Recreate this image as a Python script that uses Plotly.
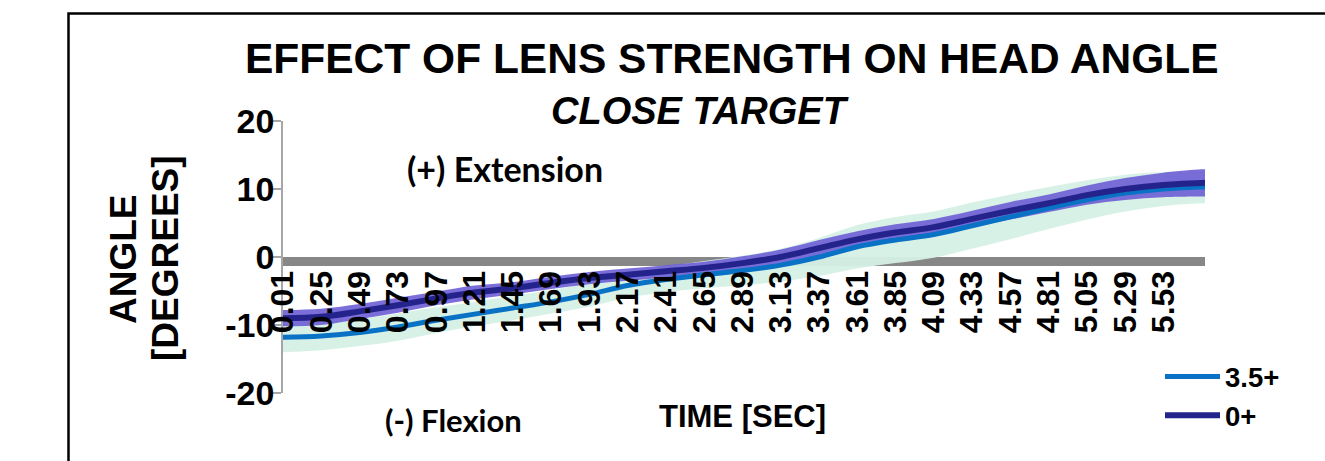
import plotly.graph_objects as go

# ---- data ----
time_s = [0.01, 0.25, 0.49, 0.73, 0.97, 1.21, 1.45, 1.69, 1.93, 2.17, 2.41, 2.65, 2.89,
          3.13, 3.37, 3.61, 3.85, 4.09, 4.33, 4.57, 4.81, 5.05, 5.29, 5.53, 5.77, 5.79]

lens_35_mean = [-11.8, -11.6, -11.1, -10.3, -9.3, -8.4, -7.5, -6.6, -5.5, -4.2, -3.3, -2.6, -2.0,
                -1.2, 0.0, 1.5, 2.5, 3.3, 4.6, 5.9, 7.2, 8.4, 9.4, 10.0, 10.3, 10.3]
lens_35_sd = [2.2, 2.1, 2.0, 2.0, 1.9, 1.8, 1.8, 1.7, 1.8, 1.8, 1.9, 2.0, 2.2,
              2.4, 2.8, 3.2, 3.4, 3.4, 3.4, 3.3, 3.1, 2.9, 2.7, 2.5, 2.4, 2.4]

lens_0_mean = [-9.0, -8.8, -8.0, -7.1, -6.1, -5.2, -4.6, -3.8, -3.1, -2.6, -2.1, -1.6, -0.9,
               0.0, 1.3, 2.6, 3.6, 4.4, 5.6, 6.8, 7.9, 9.1, 10.0, 10.6, 10.9, 10.9]
lens_0_sd = [1.2, 1.2, 1.1, 1.1, 1.0, 1.0, 0.9, 0.9, 0.9, 0.9, 0.9, 0.9, 1.0,
             1.1, 1.2, 1.2, 1.2, 1.2, 1.2, 1.3, 1.3, 1.4, 1.6, 1.8, 2.0, 2.0]

tick_vals = [0.01, 0.25, 0.49, 0.73, 0.97, 1.21, 1.45, 1.69, 1.93, 2.17, 2.41, 2.65,
             2.89, 3.13, 3.37, 3.61, 3.85, 4.09, 4.33, 4.57, 4.81, 5.05, 5.29, 5.53]
tick_text = ["%.2f" % v for v in tick_vals]
y_ticks = [-20, -10, 0, 10, 20]
series_names = ["3.5+", "0+"]

# ---- styles ----
C_LINE_35 = "#0A72C4"
C_BAND_35 = "rgba(214,240,230,0.95)"
C_LINE_0 = "#24238C"
C_BAND_0 = "rgba(112,98,214,0.92)"
ARIAL = "Liberation Sans, Arial, sans-serif"
CALIBRI = "Lato, sans-serif"

fig = go.Figure()


def band(mean, sd, color):
    upper = [m + s for m, s in zip(mean, sd)]
    lower = [m - s for m, s in zip(mean, sd)]
    fig.add_trace(go.Scatter(x=time_s, y=lower, mode="lines", line=dict(width=0, shape="spline"),
                             showlegend=False, hoverinfo="skip"))
    fig.add_trace(go.Scatter(x=time_s, y=upper, mode="lines", line=dict(width=0, shape="spline"),
                             fill="tonexty", fillcolor=color, showlegend=False, hoverinfo="skip"))


band(lens_35_mean, lens_35_sd, C_BAND_35)
band(lens_0_mean, lens_0_sd, C_BAND_0)

fig.add_trace(go.Scatter(x=time_s, y=lens_35_mean, mode="lines", name=series_names[0],
                         line=dict(color=C_LINE_35, width=5, shape="spline")))
fig.add_trace(go.Scatter(x=time_s, y=lens_0_mean, mode="lines", name=series_names[1],
                         line=dict(color=C_LINE_0, width=6, shape="spline")))
# invisible carrier so the overlaid label axis is drawn above the bands
fig.add_trace(go.Scatter(x=time_s, y=lens_0_mean, xaxis="x2", mode="lines", opacity=0,
                         showlegend=False, hoverinfo="skip"))

W, H = 1325, 461
L, R, T, B = 283, 120, 121, 68
PW, PH = W - L - R, H - T - B


def px(xp):
    return (xp - L) / PW


def py(yp):
    return (H - B - yp) / PH


axis_pos = (20 - 0.66) / 40

fig.update_layout(
    width=W, height=H,
    margin=dict(l=L, r=R, t=T, b=B),
    plot_bgcolor="white", paper_bgcolor="white",
    font=dict(family=ARIAL, color="black"),
    showlegend=True,
    legend=dict(x=px(1160), y=py(352), xanchor="left", yanchor="top", traceorder="normal",
                font=dict(family=ARIAL, size=27.5, weight="bold", color="black"),
                bgcolor="rgba(0,0,0,0)", itemwidth=55, tracegroupgap=0),
    xaxis=dict(range=[0.01, 5.79], showticklabels=False,
               showgrid=False, zeroline=False, showline=True, linecolor="#878787", linewidth=9,
               ticks="", anchor="free", position=axis_pos, layer="below traces"),
    xaxis2=dict(range=[0.01, 5.79], overlaying="x", matches="x", tickvals=tick_vals, ticktext=tick_text,
                tickangle=-90, tickfont=dict(family=ARIAL, size=32, weight="bold", color="black"),
                showgrid=False, zeroline=False, showline=False, ticks="",
                anchor="free", position=axis_pos, layer="above traces", ticklabelstandoff=2),
    yaxis=dict(range=[-20, 20], tickvals=y_ticks, ticktext=[str(v) for v in y_ticks],
               tickfont=dict(family=ARIAL, size=34, weight="bold", color="black"),
               showgrid=False, zeroline=False, showline=True, linecolor="#a6a6a6", linewidth=1.5,
               ticks="outside", ticklen=11, tickcolor="#a6a6a6", tickwidth=1.5,
               ticklabelstandoff=-11),
)

# outer chart border
fig.add_shape(type="rect", xref="paper", yref="paper",
              x0=px(68.5), x1=px(1400), y0=py(500), y1=py(13.5),
              line=dict(color="black", width=2.5), fillcolor="rgba(0,0,0,0)", layer="above")

ann = [
    dict(text="EFFECT OF LENS STRENGTH ON HEAD ANGLE", x=px(732), y=py(59),
         font=dict(family=ARIAL, size=42.5, weight="bold")),
    dict(text="<i>CLOSE TARGET</i>", x=px(700), y=py(111),
         font=dict(family=ARIAL, size=38, weight="bold")),
    dict(text="ANGLE", x=px(123), y=py(259), textangle=-90,
         font=dict(family=ARIAL, size=37, weight="bold")),
    dict(text="[DEGREES]", x=px(165), y=py(258), textangle=-90,
         font=dict(family=ARIAL, size=37, weight="bold")),
    dict(text="(+) Extension", x=px(505), y=py(168),
         font=dict(family=CALIBRI, size=34, weight="bold")),
    dict(text="(-) Flexion", x=px(453), y=py(420),
         font=dict(family=CALIBRI, size=31, weight="bold")),
    dict(text="TIME [SEC]", x=px(742), y=py(416),
         font=dict(family=ARIAL, size=31, weight="bold")),
]
for a in ann:
    fig.add_annotation(xref="paper", yref="paper", showarrow=False,
                       xanchor="center", yanchor="middle", **a)

fig.write_html("out.html")
